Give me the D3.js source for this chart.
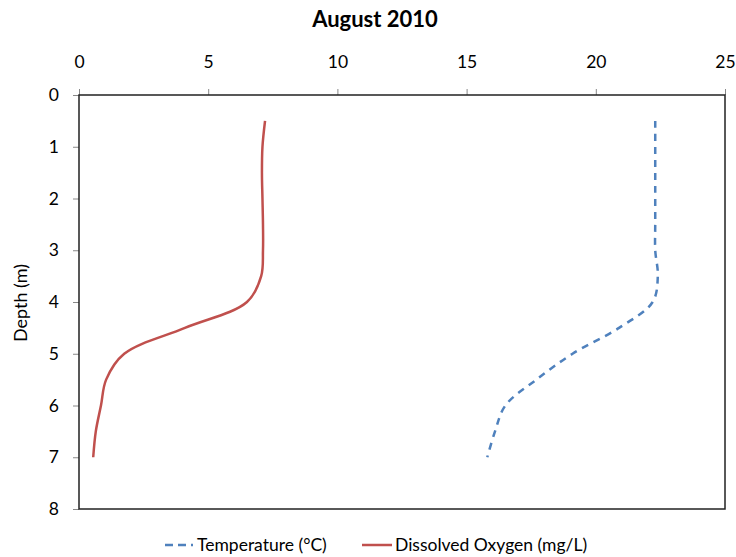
<!DOCTYPE html>
<meta charset="utf-8">
<style>
  body { margin: 0; background: #fff; }
  text { font-family: Lato, "Open Sans", sans-serif; fill: #000; }
</style>
<body>
<script src="https://cdn.jsdelivr.net/npm/d3@7"></script>
<script>

    // depth readings (m) and the two profiles
    var depth = [0.5, 1, 1.5, 2, 2.5, 3, 3.5, 4, 4.5, 5, 5.5, 6, 6.5, 7];
    var temperature = [22.3, 22.3, 22.3, 22.3, 22.3, 22.3, 22.4, 22.2, 20.9, 19.1, 17.7, 16.5, 16.1, 15.8];
    var oxygen = [7.2, 7.1, 7.08, 7.1, 7.12, 7.12, 7.05, 6.5, 4.1, 1.75, 1.05, 0.85, 0.65, 0.55];
    var xTicks = [0, 5, 10, 15, 20, 25];
    var yTicks = [0, 1, 2, 3, 4, 5, 6, 7, 8];

    var width = 736, height = 557;
    var margin = {top: 95, right: 11, bottom: 48, left: 79};
    var w = width - margin.left - margin.right,
        h = height - margin.top - margin.bottom;

    var svg = d3.select("body").append("svg")
        .attr("width", width)
        .attr("height", height);

    var g = svg.append("g")
        .attr("transform", "translate(" + margin.left + "," + margin.top + ")");

    var x = d3.scaleLinear().domain([0, 25]).range([0, w]);
    var y = d3.scaleLinear().domain([0, 8]).range([0, h]);

    // top axis
    var xAxis = g.append("g")
        .call(d3.axisTop(x).tickValues(xTicks).tickSize(6).tickPadding(21));
    // left axis
    var yAxis = g.append("g")
        .call(d3.axisLeft(y).tickValues(yTicks).tickSize(6).tickPadding(14));

    [xAxis, yAxis].forEach(function (a) {
        a.select(".domain").remove();
        a.selectAll(".tick line").attr("stroke", "#888");
        a.selectAll(".tick text")
            .style("font-family", "Lato, sans-serif")
            .style("font-size", "17.5px")
            .attr("fill", "#000");
    });

    // plot frame
    g.append("rect")
        .attr("width", w)
        .attr("height", h)
        .attr("fill", "none")
        .attr("stroke", "#222")
        .attr("stroke-width", 1.5);

    var line = function (vals) {
        return d3.line()
            .x(function (d, i) { return x(vals[i]); })
            .y(function (d) { return y(d); })
            .curve(d3.curveCatmullRom.alpha(0.5))(depth);
    };

    g.append("path")
        .attr("d", line(oxygen))
        .attr("fill", "none")
        .attr("stroke", "#C0504D")
        .attr("stroke-width", 2.5);

    g.append("path")
        .attr("d", line(temperature))
        .attr("fill", "none")
        .attr("stroke", "#4F81BD")
        .attr("stroke-width", 2.5)
        .attr("stroke-dasharray", "7,6");

    // title
    svg.append("text")
        .attr("x", 375)
        .attr("y", 27)
        .attr("text-anchor", "middle")
        .style("font-size", "22px")
        .style("font-weight", "bold")
        .text("August 2010");

    // y axis title
    svg.append("text")
        .attr("transform", "translate(27,303) rotate(-90)")
        .attr("text-anchor", "middle")
        .style("font-size", "18px")
        .text("Depth (m)");

    // legend
    var legend = svg.append("g").attr("transform", "translate(0,545)");
    legend.append("line")
        .attr("x1", 165).attr("x2", 193)
        .attr("stroke", "#4F81BD").attr("stroke-width", 2.5)
        .attr("stroke-dasharray", "8,5");
    legend.append("text")
        .attr("x", 197).attr("dy", "0.35em")
        .style("font-size", "17.5px")
        .text("Temperature (°C)");
    legend.append("line")
        .attr("x1", 362).attr("x2", 392)
        .attr("stroke", "#C0504D").attr("stroke-width", 2.5);
    legend.append("text")
        .attr("x", 395).attr("dy", "0.35em")
        .style("font-size", "17.5px")
        .text("Dissolved Oxygen (mg/L)");

</script>
</body>
